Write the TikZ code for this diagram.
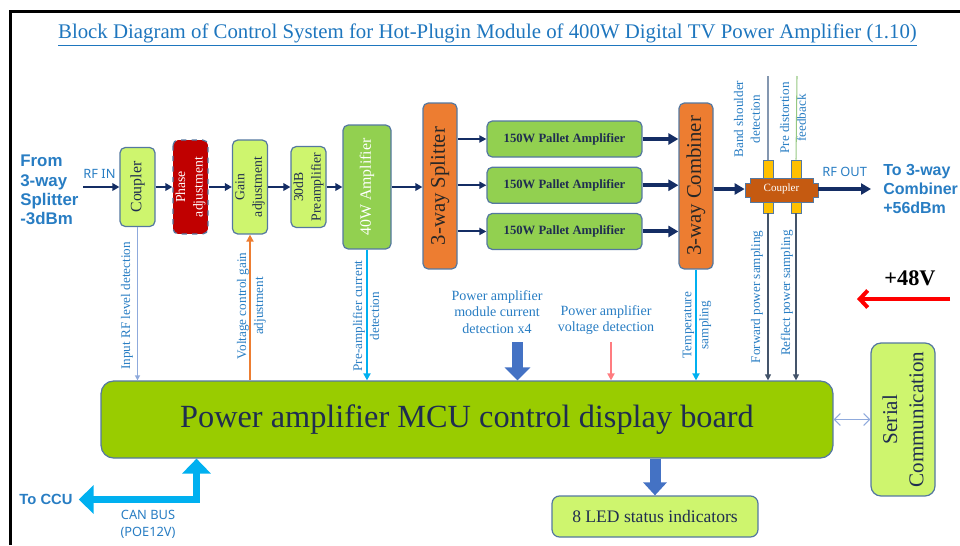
\documentclass[tikz,border=0pt]{standalone}
\usepackage{fontspec}
\setmainfont{Liberation Serif}
\newfontfamily\yahei{Noto Sans}
\newfontfamily\yaheibf{Liberation Sans}
\usetikzlibrary{arrows.meta, positioning}
\definecolor{boxgreen}{RGB}{206,245,110}
\definecolor{palletgreen}{RGB}{146,208,80}
\definecolor{mcugreen}{RGB}{153,204,0}
\definecolor{boxorange}{RGB}{237,125,49}
\definecolor{phasered}{RGB}{192,0,0}
\definecolor{couplerbrown}{RGB}{197,90,17}
\definecolor{portyellow}{RGB}{255,192,0}
\definecolor{boxline}{RGB}{84,120,160}
\definecolor{navy}{RGB}{20,45,100}
\definecolor{textblue}{RGB}{40,125,195}
\definecolor{titleblue}{RGB}{30,118,190}
\definecolor{skyblue}{RGB}{0,176,240}
\definecolor{paleblue}{RGB}{143,170,220}
\definecolor{bigblue}{RGB}{68,114,196}
\definecolor{voltpink}{RGB}{255,124,128}
\definecolor{darktext}{RGB}{31,45,80}
\definecolor{sampleline}{RGB}{68,84,106}
\definecolor{bandline}{RGB}{132,151,176}
\definecolor{pdline}{RGB}{150,200,130}

\begin{document}
\begin{tikzpicture}[
    x=0.02cm, y=-0.02cm,
    block/.style={rectangle, draw=boxline, line width=0.7pt, rounded corners=3pt, align=center, text=darktext},
    vblock/.style={block, rotate=90, inner sep=1pt},
    lightbox/.style={fill=boxgreen},
    pallet/.style={block, fill=palletgreen, minimum width=3.1cm, minimum height=0.72cm, font=\fontsize{7.2}{9}\selectfont\bfseries},
    port/.style={rectangle, fill=portyellow, draw=boxline, line width=0.3pt, minimum width=0.2cm, inner sep=0pt},
    sig/.style={align=center, text=textblue, inner sep=1pt, font=\fontsize{7.5}{9.6}\selectfont},
    endtext/.style={align=left, text=textblue, font=\yaheibf\bfseries\fontsize{9.6}{11}\selectfont},
    arrow/.style={-{Triangle[length=0.14cm, width=0.15cm]}, draw=navy, line width=1.5pt},
    thinarrow/.style={-{Triangle[length=0.14cm, width=0.14cm]}, draw=navy, line width=1.1pt},
    fatarrow/.style={-{Triangle[length=0.2cm, width=0.22cm]}, draw=navy, line width=2.3pt},
    sense/.style={-{Triangle[length=0.1cm, width=0.1cm]}, draw=paleblue, line width=0.8pt},
    ctrl/.style={-{Triangle[length=0.14cm, width=0.14cm]}, draw=boxorange, line width=1.4pt},
    sky/.style={-{Triangle[length=0.14cm, width=0.14cm]}, draw=skyblue, line width=1.4pt},
    sample/.style={-{Triangle[length=0.12cm, width=0.12cm]}, draw=sampleline, line width=0.6pt},
    blockarrow/.style={-{Triangle[length=0.26cm, width=0.5cm]}, draw=bigblue, line width=0.22cm},
    canbus/.style={{Triangle[length=0.3cm, width=0.56cm]}-{Triangle[length=0.3cm, width=0.56cm]}, draw=skyblue, line width=0.15cm, line join=miter},
    pwr/.style={-{Straight Barb[length=0.16cm, width=0.34cm]}, draw=red, line width=0.08cm}
]
    \useasboundingbox (0,0) rectangle (960,545);

    % Frame and title
    \draw[line width=0.06cm] (10.5,545) -- (10.5,11.5) -- (960,11.5);
    \node[text=titleblue, font=\fontsize{11.85}{14}\selectfont] (title) at (487.5,35)
        {\underline{Block Diagram of Control System for Hot-Plugin Module of 400W Digital TV Power Amplifier (1.10)}};

    % Input
    \node[endtext, anchor=west, inner xsep=2.5pt] (src) at (15.6,190) {From\\3-way\\Splitter\\-3dBm};

    % RF chain (rotated boxes: .north = left side, .south = right side, .west = bottom)
    \node[vblock, lightbox, minimum width=1.58cm, minimum height=0.7cm, font=\fontsize{9}{11}\selectfont] (coupler) at (137.5,187) {Coupler};
    \node[vblock, fill=phasered, dashed, text=white, minimum width=1.88cm, minimum height=0.7cm, font=\fontsize{7.8}{10}\selectfont] (phase) at (190.5,187) {Phase\\adjustment};
    \node[vblock, lightbox, minimum width=1.88cm, minimum height=0.7cm, font=\fontsize{7.8}{10}\selectfont] (gain) at (250,187) {Gain\\adjustment};
    \node[vblock, lightbox, minimum width=1.62cm, minimum height=0.7cm, font=\fontsize{7.8}{10}\selectfont] (pre) at (308.5,187) {30dB\\Preamplifier};
    \node[vblock, fill=palletgreen, text=white, minimum width=2.48cm, minimum height=0.96cm, font=\fontsize{9}{11}\selectfont] (amp40) at (367,187) {40W Amplifier};
    \node[vblock, fill=boxorange, text=black!85, minimum width=3.32cm, minimum height=0.68cm, font=\fontsize{11.8}{14}\selectfont] (split) at (440,186) {3-way Splitter};

    % Pallet amplifiers
    \node[pallet] (pa1) at (564.5,139) {150W Pallet Amplifier};
    \node[pallet, below=0.18cm of pa1] (pa2) {150W Pallet Amplifier};
    \node[pallet, below=0.18cm of pa2] (pa3) {150W Pallet Amplifier};

    \node[vblock, fill=boxorange, text=black!85, minimum width=3.32cm, minimum height=0.68cm, font=\fontsize{11.8}{14}\selectfont] (comb) at (696,186) {3-way Combiner};

    % Output coupler
    \node[port, minimum height=0.36cm] (bandport) at (768,169) {};
    \node[port, minimum height=0.36cm] (pdport) at (796,169) {};
    \node[port, minimum height=0.22cm] (fwdport) at (768,207.5) {};
    \node[port, minimum height=0.22cm] (refport) at (796,207.5) {};
    \filldraw[fill=couplerbrown, draw=boxline, line width=0.5pt] (745,183) -- (750,183) -- (750,178) -- (813,178) -- (813,183) -- (818,183)
        -- (818,197) -- (813,197) -- (813,202) -- (750,202) -- (750,197) -- (745,197) -- cycle;
    \node[text=white, minimum width=1.46cm, minimum height=0.4cm, inner sep=0pt, font=\fontsize{6.3}{7}\selectfont] (rfc) at (781.5,189) {Coupler};

    \node[endtext, anchor=west, inner xsep=6.8pt, font=\yaheibf\bfseries\fontsize{9.1}{10.9}\selectfont] (out) at (871,189) {To 3-way\\Combiner\\+56dBm};

    % Control board
    \node[block, fill=mcugreen, rounded corners=0.25cm, minimum width=14.64cm, minimum height=1.54cm, font=\fontsize{18.4}{22}\selectfont] (mcu) at (467,419.5)
        {Power amplifier MCU control display board};
    \node[vblock, lightbox, rounded corners=0.2cm, inner sep=2pt, minimum width=3.06cm, minimum height=1.28cm, font=\fontsize{12}{15}\selectfont] (serial) at (903,419.5) {Serial\\Communication};
    \node[block, lightbox, rounded corners=0.15cm, minimum width=4.12cm, minimum height=0.82cm, font=\fontsize{10}{12}\selectfont] (led) at (655,516.5) {8 LED status indicators};

    \node[endtext, inner xsep=3.33pt, font=\yaheibf\bfseries\fontsize{8.4}{10}\selectfont] (ccu) at (46,499) {To CCU};
    \node[text=textblue, align=center, font=\yahei\fontsize{7.3}{9.6}\selectfont] (canlab) at (148,524) {CAN BUS\\(POE12V)};
    \node[font=\fontsize{12.7}{14}\selectfont\bfseries] (v48) at (910,278) {+48V};

    % Signal labels
    \node[sig, rotate=90] (inrflab) at (127,306) {Input RF level detection};
    \node[sig, rotate=90] (vgainlab) at (251.5,306) {Voltage control gain\\adjustment};
    \node[sig, rotate=90] (precurlab) at (366,316) {Pre-amplifier current\\detection};
    \node[sig, rotate=90] (templab) at (697,325) {Temperature\\sampling};
    \node[sig, rotate=90] (fwdlab) at (757,297) {Forward power sampling};
    \node[sig, rotate=90] (reflab) at (787,293) {Reflect power sampling};
    \node[sig, rotate=90] (bandlab) at (747,119) {Band shoulder\\detection};
    \node[sig, rotate=90] (pdlab) at (793,118) {Pre distortion\\feedback};
    \node[sig, font=\fontsize{8}{9.6}\selectfont] (modlab) at (497,312) {Power amplifier\\module current\\detection x4};
    \node[sig, font=\fontsize{8}{9.6}\selectfont] (voltlab) at (606,320) {Power amplifier\\voltage detection};

    % Arrows - main RF flow
    \draw[arrow] (src.east |- coupler) -- (coupler.north) node[pos=0.45, above=1pt, text=textblue, font=\yahei\fontsize{7.3}{9}\selectfont] (rfin) {RF IN};
    \draw[arrow] (coupler.south) -- (phase.north);
    \draw[arrow] (phase.south) -- (gain.north);
    \draw[arrow] (gain.south) -- (pre.north);
    \draw[arrow] (pre.south) -- (amp40.north);
    \draw[arrow] (amp40.south) -- (amp40.south -| split.north);
    \draw[thinarrow] (split.south |- pa1) -- (pa1);
    \draw[thinarrow] (split.south |- pa2) -- (pa2);
    \draw[thinarrow] (split.south |- pa3) -- (pa3);
    \draw[fatarrow] (pa1) -- (pa1 -| comb.north);
    \draw[fatarrow] (pa2) -- (pa2 -| comb.north);
    \draw[fatarrow] (pa3) -- (pa3 -| comb.north);
    \draw[fatarrow, line width=1.9pt] (comb.south |- rfc) -- (rfc);
    \draw[fatarrow, line width=1.9pt] (rfc) -- (rfc -| out.west) node[midway, above=3pt, text=textblue, font=\yahei\fontsize{7.3}{9}\selectfont] (rfout) {RF OUT};

    % Arrows - coupler sampling
    \coordinate (bandtop) at (768,76);
    \coordinate (pdtop) at (797,76);
    \draw[draw=bandline, line width=0.6pt] (bandport.north) -- (bandtop);
    \draw[draw=pdline, line width=0.6pt] (pdport.north) -- (pdtop);
    \draw[sample] (fwdport.south) -- (fwdport.south |- mcu.north);
    \draw[sample] (refport.south) -- (refport.south |- mcu.north);

    % Arrows - detection and control
    \draw[sense] (coupler.west) -- (coupler.west |- mcu.north);
    \draw[ctrl] (gain.west |- mcu.north) -- (gain.west);
    \draw[sky] (amp40.west) -- (amp40.west |- mcu.north);
    \draw[sky] (comb.west) -- (comb.west |- mcu.north);
    \coordinate (modtop) at (517.5,342);
    \coordinate (volttop) at (611,342);
    \draw[blockarrow] (modtop) -- (modtop |- mcu.north);
    \draw[-{Triangle[length=0.14cm, width=0.14cm]}, draw=voltpink, line width=1pt] (volttop) -- (volttop |- mcu.north);

    % Arrows - board outputs
    \draw[blockarrow, -{Triangle[length=0.26cm, width=0.46cm]}] (mcu.south -| led) -- (led.north);
    \draw[{Straight Barb[length=0.12cm, width=0.24cm]}-{Straight Barb[length=0.12cm, width=0.24cm]}, draw=paleblue, line width=0.6pt] (mcu) -- (serial);
    \coordinate (canbend) at (196.5,499.5);
    \draw[canbus] (ccu.east |- canbend) -- (canbend) -- (canbend |- mcu.south);

    % Power input
    \coordinate (pwrstart) at (950,299);
    \coordinate (pwrend) at (857,299);
    \draw[pwr] (pwrstart) -- (pwrend);

\end{tikzpicture}
\end{document}
